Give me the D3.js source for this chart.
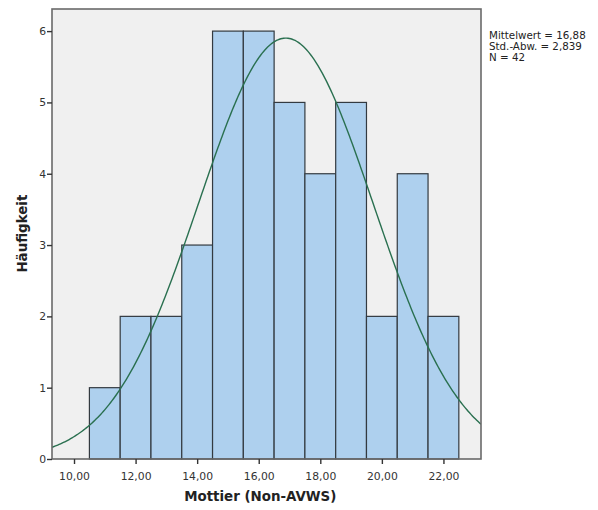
<!DOCTYPE html>
<html>
<head>
<meta charset="utf-8">
<script src="https://cdn.jsdelivr.net/npm/d3@7"></script>
<style>
  body { margin: 0; background: #fff; }
  text { font-family: "DejaVu Sans", "Noto Sans", sans-serif; }
</style>
</head>
<body>
<svg id="chart" width="598" height="510"></svg>
<script>
// Histogram bins (lower edge) and frequencies
const binStarts = [10.5, 11.5, 12.5, 13.5, 14.5, 15.5, 16.5, 17.5, 18.5, 19.5, 20.5, 21.5];
const binWidth = 1;
const counts = [1, 2, 2, 3, 6, 6, 5, 4, 5, 2, 4, 2];
const xTicks = [10, 12, 14, 16, 18, 20, 22];
const yTicks = [0, 1, 2, 3, 4, 5, 6];
const meanVal = 16.88;
const sdVal = 2.839;
const nVal = 42;
const statLines = ["Mittelwert = 16,88", "Std.-Abw. = 2,839", "N = 42"];

const svg = d3.select("#chart");
const plot = { left: 52, top: 9, right: 481, bottom: 459 };

const x = d3.scaleLinear().domain([9.285, 23.22]).range([plot.left, plot.right]);
const y = d3.scaleLinear().domain([0, 6.31]).range([plot.bottom, plot.top]);

const fmt = d => d.toFixed(2).replace(".", ",");

// plot background
svg.append("rect")
  .attr("x", plot.left).attr("y", plot.top)
  .attr("width", plot.right - plot.left).attr("height", plot.bottom - plot.top)
  .attr("fill", "#f0f0f0");

svg.append("clipPath").attr("id", "plotclip")
  .append("rect")
  .attr("x", plot.left).attr("y", plot.top)
  .attr("width", plot.right - plot.left).attr("height", plot.bottom - plot.top);

// bars
svg.append("g").selectAll("rect")
  .data(binStarts.map((s, i) => ({ s, c: counts[i] })))
  .join("rect")
  .attr("x", d => x(d.s))
  .attr("y", d => y(d.c))
  .attr("width", d => x(d.s + binWidth) - x(d.s))
  .attr("height", d => y(0) - y(d.c))
  .attr("fill", "#aed0ee")
  .attr("stroke", "#333a40")
  .attr("stroke-width", 1.2);

// normal curve scaled to frequency
const pdf = v => nVal * binWidth * Math.exp(-0.5 * ((v - meanVal) / sdVal) ** 2) / (sdVal * Math.sqrt(2 * Math.PI));
const xs = d3.range(0, 301).map(i => 9.285 + i * (23.22 - 9.285) / 300);
svg.append("path")
  .datum(xs)
  .attr("clip-path", "url(#plotclip)")
  .attr("fill", "none")
  .attr("stroke", "#2a7050")
  .attr("stroke-width", 1.4)
  .attr("d", d3.line().x(d => x(d)).y(d => y(pdf(d))));

// frame
svg.append("rect")
  .attr("x", plot.left).attr("y", plot.top)
  .attr("width", plot.right - plot.left).attr("height", plot.bottom - plot.top)
  .attr("fill", "none")
  .attr("stroke", "#6a6a6a")
  .attr("stroke-width", 1.6);

// axes
const xAxis = svg.append("g")
  .attr("transform", `translate(0,${plot.bottom})`)
  .call(d3.axisBottom(x).tickValues(xTicks).tickFormat(fmt).tickSize(5).tickSizeOuter(0));
const yAxis = svg.append("g")
  .attr("transform", `translate(${plot.left},0)`)
  .call(d3.axisLeft(y).tickValues(yTicks).tickFormat(d3.format("d")).tickSize(5).tickSizeOuter(0));
[xAxis, yAxis].forEach(a => {
  a.select(".domain").remove();
  a.selectAll(".tick line").attr("stroke", "#333").attr("stroke-width", 1.4);
  a.selectAll(".tick text").attr("fill", "#333").attr("font-size", 10.8);
});
xAxis.selectAll(".tick text").attr("dy", "1.2em");
yAxis.selectAll(".tick text").attr("x", -6);

// axis titles
svg.append("text")
  .attr("x", x(16.05)).attr("y", 501)
  .attr("text-anchor", "middle")
  .attr("font-size", 13.4).attr("font-weight", "bold").attr("fill", "#222")
  .text("Mottier (Non-AVWS)");
svg.append("text")
  .attr("transform", `translate(27,${y(3.16)}) rotate(-90)`)
  .attr("text-anchor", "middle")
  .attr("font-size", 13.4).attr("font-weight", "bold").attr("fill", "#222")
  .text("Häufigkeit");

// statistics
svg.append("g").selectAll("text")
  .data(statLines)
  .join("text")
  .attr("x", 489)
  .attr("y", (d, i) => 39 + i * 11)
  .attr("font-size", 10.3).attr("fill", "#222")
  .text(d => d);
</script>
</body>
</html>
